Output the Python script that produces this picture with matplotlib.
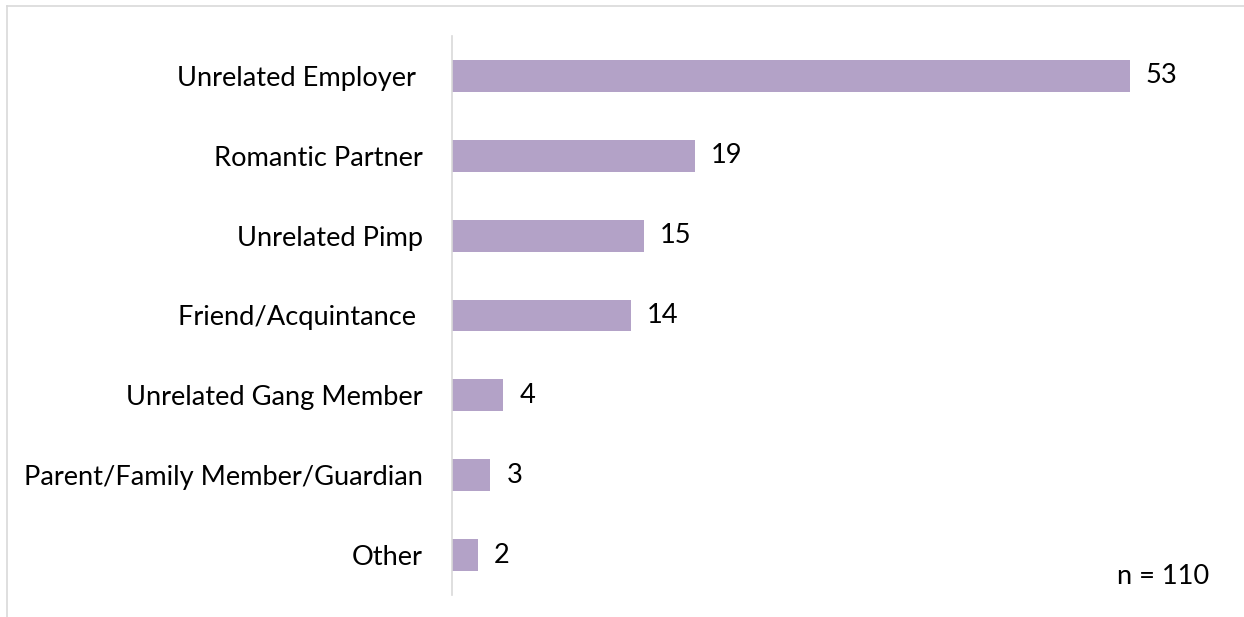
import matplotlib
matplotlib.use("Agg")
import matplotlib.pyplot as plt
from matplotlib.lines import Line2D

# data, top to bottom as shown
categories = ["Unrelated Employer ", "Romantic Partner", "Unrelated Pimp",
              "Friend/Acquintance ", "Unrelated Gang Member",
              "Parent/Family Member/Guardian", "Other"]
counts = [53, 19, 15, 14, 4, 3, 2]
note = "n = 110"

plt.rcParams['font.family'] = ['Lato', 'DejaVu Sans']
fs = 19.6

fig = plt.figure(figsize=(12.44, 6.17), dpi=100)
ax = fig.add_axes([452 / 1244, 22 / 617, (1200 - 452) / 1244, (595 - 36) / 617])

ypos = list(range(len(categories)))[::-1]
ax.barh(ypos, counts, height=0.4, color="#B3A2C7")

for y, v in zip(ypos, counts):
    ax.annotate(str(v), (v, y), xytext=(11.5, 0), textcoords="offset points",
                va="center", ha="left", fontsize=fs, color="black")

ax.set_yticks(ypos)
ax.set_yticklabels(categories, fontsize=fs)
ax.set_ylim(-0.5, len(categories) - 0.5)
ax.set_xlim(0, (1200 - 452) / (678 / 53))
ax.set_xticks([])
ax.tick_params(axis="y", length=0, pad=21)

for s in ["top", "right", "bottom"]:
    ax.spines[s].set_visible(False)
ax.spines["left"].set_color("#D9D9D9")
ax.spines["left"].set_linewidth(1.2)

fig.text(1117 / 1244, 1 - 577 / 617, note, fontsize=fs, va="center", ha="left")

# light chart frame (top and left edge)
fig.add_artist(Line2D([7 / 1244, 1], [1 - 6 / 617, 1 - 6 / 617], color="#D9D9D9", lw=1.2))
fig.add_artist(Line2D([7 / 1244, 7 / 1244], [0, 1 - 6 / 617], color="#D9D9D9", lw=1.2))

fig.savefig("out.png", dpi=100)
